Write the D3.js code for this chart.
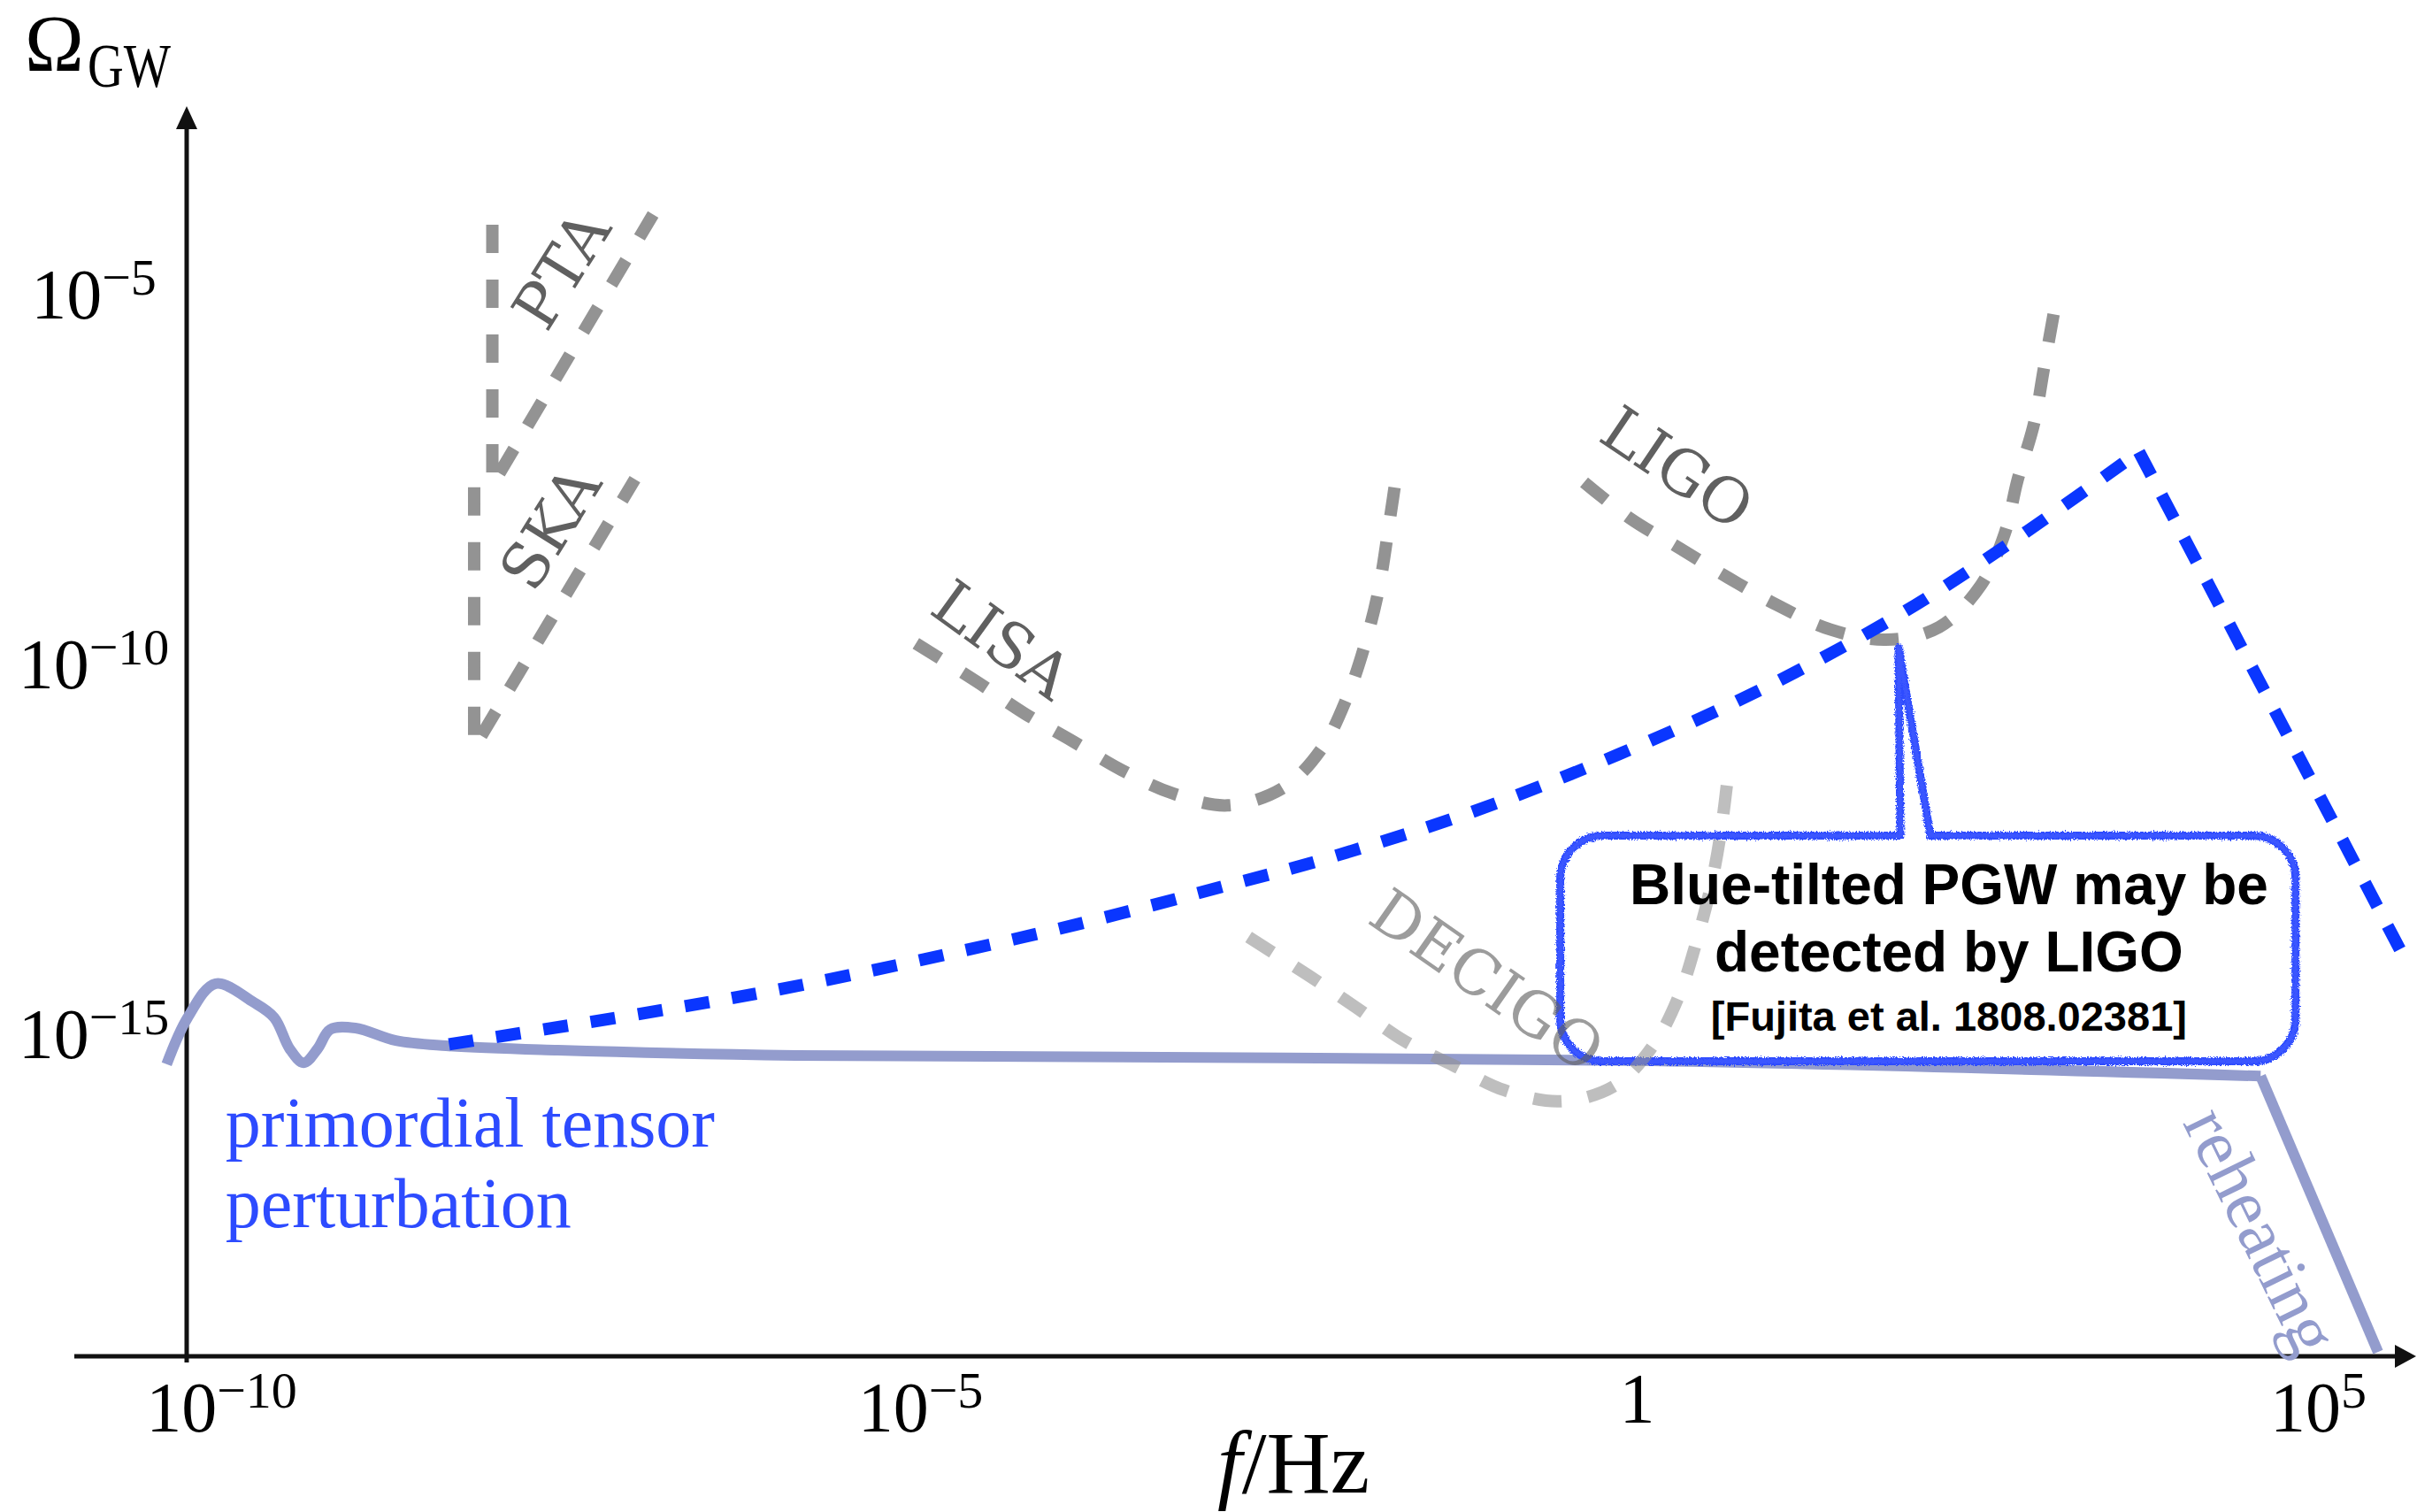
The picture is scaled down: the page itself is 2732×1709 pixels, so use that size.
<!DOCTYPE html>
<html><head><meta charset="utf-8">
<script src="https://cdn.jsdelivr.net/npm/d3@7"></script>
<style>html,body{margin:0;padding:0;background:#fff;} svg{display:block;}</style>
</head><body>
<script>
// ---------- data (log10 values) ----------
const xTickExps = [-10, -5, 0, 5];
const xTickLabels = [["10", "\u221210"], ["10", "\u22125"], ["1", ""], ["10", "5"]];
const yTickExps = [-5, -10, -15];
const yTickLabels = [["10", "\u22125"], ["10", "\u221210"], ["10", "\u221215"]];

const primLogF     = [-10.39, -10.24, -10.04, -9.77, -9.62, -9.51, -9.41, -9.31, -9.22, -9.04, -8.75, -8.39, -7.59, -5.89, 0.11, 4.59];
const primLogOmega = [-15.43, -14.80, -14.34, -14.59, -14.80, -15.22, -15.41, -15.22, -14.96, -14.94, -15.11, -15.18, -15.24, -15.31, -15.38, -15.59];
const reheatLogF     = [4.59, 5.43];
const reheatLogOmega = [-15.59, -19.32];

const blueRiseLogF     = [-8.37, -7.17, -6.07, -4.97, -3.86, -2.76, -2.06, -0.85, 0.79, 1.98, 2.83, 3.72];
const blueRiseLogOmega = [-15.16, -14.80, -14.44, -14.01, -13.53, -12.99, -12.63, -11.88, -10.57, -9.38, -8.34, -7.15];
const blueFallLogF     = [3.72, 5.64];
const blueFallLogOmega = [-7.15, -14.07];

const ptaLogF     = [-8.06, -8.06, -6.91];
const ptaLogOmega = [-4.08, -7.60, -3.94];
const skaLogF     = [-8.19, -8.19, -7.04];
const skaLogOmega = [-7.63, -11.15, -7.52];
const lisaLogF     = [-5.03, -4.60, -4.25, -3.91, -3.56, -3.19, -2.80, -2.40, -2.13, -1.95, -1.82, -1.72, -1.64, -1.58];
const lisaLogOmega = [-9.74, -10.25, -10.69, -11.06, -11.45, -11.77, -11.93, -11.69, -11.17, -10.49, -9.77, -9.02, -8.07, -7.30];
const ligoLogF     = [-0.25, 0.08, 0.44, 0.78, 1.13, 1.51, 1.91, 2.29, 2.59, 2.76, 2.85, 2.97, 3.04, 3.13];
const ligoLogOmega = [-7.56, -8.05, -8.46, -8.85, -9.22, -9.55, -9.69, -9.52, -8.95, -8.25, -7.54, -6.76, -6.02, -5.07];
const decigoLogF     = [-2.65, -2.22, -1.89, -1.53, -1.18, -0.82, -0.42, -0.03, 0.25, 0.43, 0.55, 0.66, 0.73, 0.79];
const decigoLogOmega = [-13.71, -14.23, -14.65, -15.12, -15.45, -15.78, -15.93, -15.72, -15.16, -14.50, -13.80, -13.00, -12.27, -11.35];

const detectorNames  = ["PTA", "SKA", "LISA", "LIGO", "DECIGO"];
const detectorLabelF = [-7.57, -7.65, -4.41, 0.42, -0.94];
const detectorLabelO = [-4.68, -8.17, -9.68, -7.36, -14.29];
const detectorLabelAngle = [-58, -58, 36, 34, 35];

const boxLines = ["Blue-tilted PGW may be", "detected by LIGO", "[Fujita et al. 1808.02381]"];

// ---------- layout ----------
const W = 2732, H = 1709;
const axisX = 211, axisY = 1533;
const xs = d3.scaleLinear().domain([-10, 5]).range([250, 2620]);
const ys = d3.scaleLinear().domain([-5, -15]).range([331, 1167]);

const svg = d3.select("body").append("svg").attr("width", W).attr("height", H)
  .attr("font-family", "'Liberation Serif', 'Times New Roman', serif");

const defs = svg.append("defs");
function roughFilter(id, seed, freq, scale) {
  const f = defs.append("filter").attr("id", id).attr("x", "-5%").attr("y", "-5%").attr("width", "110%").attr("height", "110%");
  f.append("feTurbulence").attr("type", "fractalNoise").attr("baseFrequency", freq).attr("numOctaves", 2).attr("seed", seed).attr("result", "n");
  f.append("feDisplacementMap").attr("in", "SourceGraphic").attr("in2", "n").attr("scale", scale)
    .attr("xChannelSelector", "R").attr("yChannelSelector", "G");
}
roughFilter("rough1", 3, 0.7, 6);
roughFilter("rough2", 11, 0.9, 7);

const zip = (a, b) => a.map((v, i) => [v, b[i]]);
const lineSmooth = d3.line().x(d => xs(d[0])).y(d => ys(d[1])).curve(d3.curveCatmullRom.alpha(0.5));
const lineStraight = d3.line().x(d => xs(d[0])).y(d => ys(d[1]));

// ---------- axes ----------
const xAxis = d3.axisBottom(xs).tickValues(xTickExps).tickSize(0).tickFormat(() => "");
const gx = svg.append("g").attr("transform", `translate(0,${axisY})`).call(xAxis);
gx.select(".domain").remove();
gx.selectAll(".tick").each(function (d, i) {
  const lab = xTickLabels[i];
  const t = d3.select(this).append("text").attr("fill", "#000").attr("text-anchor", "middle")
    .attr("font-family", "'Liberation Serif', serif").attr("font-size", 80)
    .attr("y", lab[1] ? 85 : 75).attr("dx", lab[1] ? 0 : 20);
  t.append("tspan").text(lab[0]);
  if (lab[1]) t.append("tspan").attr("font-size", 58).attr("dy", -27).text(lab[1]);
});

const yAxis = d3.axisLeft(ys).tickValues(yTickExps).tickSize(0).tickFormat(() => "");
const gy = svg.append("g").attr("transform", `translate(${axisX},0)`).call(yAxis);
gy.select(".domain").remove();
gy.selectAll(".tick").each(function (d, i) {
  const lab = yTickLabels[i];
  const t = d3.select(this).append("text").attr("fill", "#000").attr("text-anchor", "middle")
    .attr("font-family", "'Liberation Serif', serif").attr("font-size", 80)
    .attr("x", -105).attr("y", 28);
  t.append("tspan").text(lab[0]);
  t.append("tspan").attr("font-size", 58).attr("dy", -27).text(lab[1]);
});

// axis lines with arrows
svg.append("line").attr("x1", axisX).attr("y1", 1540).attr("x2", axisX).attr("y2", 140)
  .attr("stroke", "#111").attr("stroke-width", 5);
svg.append("path").attr("d", `M${axisX},120 L${axisX - 12},146 L${axisX + 12},146 Z`).attr("fill", "#111");
svg.append("line").attr("x1", 84).attr("y1", axisY).attr("x2", 2712).attr("y2", axisY)
  .attr("stroke", "#111").attr("stroke-width", 5);
svg.append("path").attr("d", `M2731,${axisY} L2707,${axisY - 13} L2707,${axisY + 13} Z`).attr("fill", "#111");

// axis titles
svg.append("text").attr("x", 28).attr("y", 80).attr("font-size", 90).attr("fill", "#000").text("\u03A9");
svg.append("text").attr("x", 99).attr("y", 98).attr("font-size", 70).attr("fill", "#000")
  .attr("textLength", 94).attr("lengthAdjust", "spacingAndGlyphs").text("GW");
const fl = svg.append("text").attr("x", 1462).attr("y", 1687).attr("text-anchor", "middle").attr("font-size", 100).attr("fill", "#000");
fl.append("tspan").attr("font-style", "italic").text("f");
fl.append("tspan").text("/Hz");

// ---------- primordial tensor curve ----------
const primColor = "#939ccd";
svg.append("path").attr("d", lineSmooth(zip(primLogF, primLogOmega)))
  .attr("fill", "none").attr("stroke", primColor).attr("stroke-width", 12).attr("stroke-linejoin", "round");
svg.append("path").attr("d", lineStraight(zip(reheatLogF, reheatLogOmega)))
  .attr("fill", "none").attr("stroke", primColor).attr("stroke-width", 12).attr("stroke-linejoin", "miter");

// ---------- detector curves ----------
const grayDash = "32,30";
function detector(fArr, oArr, curve, opacity) {
  svg.append("path").attr("d", (curve ? lineSmooth : lineStraight)(zip(fArr, oArr)))
    .attr("fill", "none").attr("stroke", "#939393").attr("stroke-width", 14)
    .attr("stroke-dasharray", grayDash).attr("opacity", opacity);
}
detector(ptaLogF, ptaLogOmega, false, 1);
detector(skaLogF, skaLogOmega, false, 1);
detector(lisaLogF, lisaLogOmega, true, 1);
detector(ligoLogF, ligoLogOmega, true, 1);

function detLabel(i, opacity) {
  svg.append("text")
    .attr("transform", `translate(${xs(detectorLabelF[i])},${ys(detectorLabelO[i])}) rotate(${detectorLabelAngle[i]})`)
    .attr("text-anchor", "middle").attr("dy", "0.36em")
    .attr("font-family", "'DejaVu Serif', serif").attr("font-size", 70)
    .attr("fill", "#606060").attr("opacity", opacity).text(detectorNames[i]);
}
[0, 1, 2, 3].forEach(i => detLabel(i, 1));

// ---------- blue-tilted PGW ----------
const blue = "#0a36ff";
svg.append("path").attr("d", lineSmooth(zip(blueRiseLogF, blueRiseLogOmega)))
  .attr("fill", "none").attr("stroke", blue).attr("stroke-width", 14).attr("stroke-dasharray", "28,26");
svg.append("path").attr("d", lineStraight(zip(blueFallLogF, blueFallLogOmega)))
  .attr("fill", "none").attr("stroke", blue).attr("stroke-width", 14).attr("stroke-dasharray", "30,25");

// ---------- callout box ----------
const bx0 = xs(-0.42), bx1 = xs(4.84), by0 = ys(-12.34), by1 = ys(-15.39), r = 48;
const tipX = xs(2.0), tipY = ys(-9.8);
const spL = tipX + 2, spR = tipX + 36;
const p = d3.path();
p.moveTo(spL, by0);
p.lineTo(tipX, tipY);
p.lineTo(spR, by0);
p.lineTo(bx1 - r, by0);
p.arcTo(bx1, by0, bx1, by0 + r, r);
p.lineTo(bx1, by1 - r);
p.arcTo(bx1, by1, bx1 - r, by1, r);
p.lineTo(bx0 + r, by1);
p.arcTo(bx0, by1, bx0, by1 - r, r);
p.lineTo(bx0, by0 + r);
p.arcTo(bx0, by0, bx0 + r, by0, r);
p.closePath();
svg.append("path").attr("d", p.toString()).attr("fill", "#fff");
svg.append("path").attr("d", p.toString()).attr("fill", "none").attr("stroke", "#2d4cff")
  .attr("stroke-width", 9).attr("stroke-linejoin", "round").attr("filter", "url(#rough1)");
svg.append("path").attr("d", p.toString()).attr("fill", "none").attr("stroke", "#3a57ff")
  .attr("stroke-width", 5).attr("stroke-linejoin", "round").attr("filter", "url(#rough2)");

// DECIGO (drawn over the box, translucent)
detector(decigoLogF, decigoLogOmega, true, 0.6);
detLabel(4, 0.62);

const tcx = xs(2.36);
const bt = svg.append("g").attr("font-family", "'Liberation Sans', Arial, sans-serif").attr("font-weight", "bold")
  .attr("fill", "#000").attr("text-anchor", "middle");
bt.append("text").attr("x", tcx).attr("y", 1022).attr("font-size", 64).text(boxLines[0]);
bt.append("text").attr("x", tcx).attr("y", 1098).attr("font-size", 64).text(boxLines[1]);
bt.append("text").attr("x", tcx).attr("y", 1165).attr("font-size", 47).text(boxLines[2]);

// ---------- text labels ----------
const pt = svg.append("g").attr("fill", "#2d4bff").attr("font-size", 80);
pt.append("text").attr("x", xs(-9.97)).attr("y", ys(-16.54)).text("primordial tensor");
pt.append("text").attr("x", xs(-9.97)).attr("y", ys(-16.54) + 91).text("perturbation");

svg.append("text")
  .attr("transform", `translate(${xs(4.58)},${ys(-17.69)}) rotate(64)`)
  .attr("text-anchor", "middle").attr("dy", "0.3em").attr("font-size", 80)
  .attr("fill", primColor).text("reheating");
</script>
</body></html>
